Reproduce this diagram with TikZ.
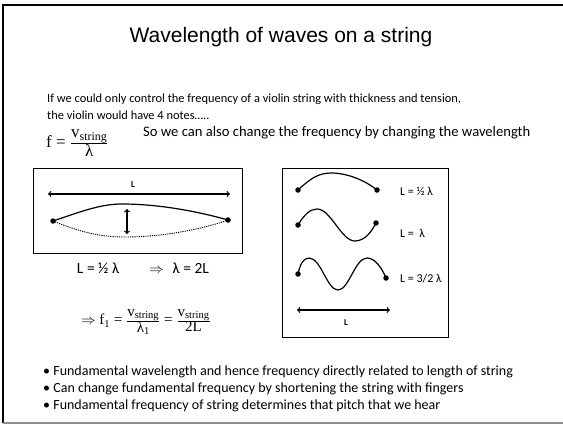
\documentclass[tikz,border=0pt]{standalone}
\usepackage{fontspec}
\setmainfont{Carlito}
\newfontfamily\headfont{Liberation Sans}
\newfontfamily\eqfont{Liberation Serif}
\usetikzlibrary{arrows, positioning, calc}
\definecolor{slideline}{RGB}{0, 0, 0}
\definecolor{footline}{RGB}{140, 140, 140}
\newcommand{\vfrac}[2]{$\frac{\hbox{#1}}{\hbox{#2}}$}

\begin{document}
\begin{tikzpicture}[
    x=1pt, y=-1pt,
    heading/.style={font=\headfont\fontsize{21}{25}\selectfont},
    bodytext/.style={anchor=base west, inner sep=0pt, font=\fontsize{12.4}{15}\selectfont},
    pointtext/.style={anchor=base west, inner sep=0pt, font=\fontsize{14}{17}\selectfont},
    labeltext/.style={anchor=west, inner sep=0pt, font=\fontsize{12}{14}\selectfont},
    eqtext/.style={inner sep=0pt, font=\eqfont\fontsize{17}{20}\selectfont},
    panel/.style={rectangle, draw, line width=1.2pt, anchor=north west, inner sep=0pt},
    dot/.style={circle, fill, inner sep=0pt, minimum size=5.5pt},
    string/.style={line width=1.2pt},
    dblarrow/.style={<->, line width=1.2pt, >=to}
]
\useasboundingbox (0,0) rectangle (563,426);

% Slide frame
\draw[slideline, line width=1.5pt] (563,5) -- (3,5) -- (3,423);
\draw[footline, line width=1.2pt] (3,423) -- (563,423);

% Heading and intro
\node[heading] (title) at (281,37) {Wavelength of waves on a string};
\node[bodytext] (intro1) at (47,102) {If we could only control the frequency of a violin string with thickness and tension,};
\node[bodytext] (intro2) at (47,119) {the violin would have 4 notes\ldots..};

\node[eqtext, anchor=west] (freq) at (46,143) {f = \vfrac{v\textsubscript{string}}{λ}};
\node[pointtext, font=\fontsize{14.6}{17}\selectfont] (sotext) at (143,136) {So we can also change the frequency by changing the wavelength};

% Left panel
\node[panel, minimum width=209pt, minimum height=85pt] (leftbox) at (33,168) {};
\coordinate (lenl) at (48,194);
\coordinate (lenr) at (230,194);
\node[font=\bfseries\fontsize{9}{10}\selectfont] (lenlab) at (133,185) {L};
\draw[dblarrow] (lenl) -- (lenr);

\node[dot] (la) at (53,221) {};
\node[dot] (lb) at (228,220) {};
\draw[string] (la.center) .. controls (80,212) and (100,204) .. (122,204) .. controls (160,204) and (200,212) .. (lb.center);
\draw[string, densely dotted, line width=0.9pt] (la.center) .. controls (80,232) and (100,237) .. (125,237) .. controls (160,237) and (200,230) .. (lb.center);
\coordinate (amptop) at (127,209);
\coordinate (ampbot) at (127,234);
\draw[dblarrow] (amptop) -- (ampbot);

\node[font=\fontsize{15.5}{18}\selectfont] (relation) at (143,268) {L = ½ λ\hspace{30pt}$\Rightarrow$\hspace{9pt}λ = 2L};
\node[eqtext, font=\eqfont\fontsize{15}{18}\selectfont] (fund) at (146,322) {$\Rightarrow$ f\textsubscript{1} = \vfrac{v\textsubscript{string}}{λ\textsubscript{1}} = \vfrac{v\textsubscript{string}}{2L}};

% Right panel
\node[panel, minimum width=166pt, minimum height=169pt] (rightbox) at (282,168) {};

\node[dot] (halfa) at (298,190) {};
\node[dot] (halfb) at (377,190) {};
\draw[string] (halfa.center) .. controls (310,179) and (318,173) .. (331,173) .. controls (348,173) and (366,181) .. (halfb.center);
\node[labeltext] (halflab) at (400,191) {L = ½ λ};

\node[dot] (fulla) at (298,225) {};
\node[dot] (fullb) at (376,223) {};
\draw[string] (fulla.center) .. controls (304,215) and (310,209) .. (317,209) .. controls (331,209) and (341,241) .. (355,241) .. controls (365,241) and (372,231) .. (fullb.center);
\node[labeltext] (fulllab) at (400,233) {L = \ λ};

\node[dot] (threea) at (298,274) {};
\node[dot] (threeb) at (386,278) {};
\draw[string] (threea.center) .. controls (300,265) and (303,258) .. (309,258) .. controls (321,258) and (327,290) .. (338,290) .. controls (349,290) and (355,258) .. (367,258) .. controls (375,258) and (382,268) .. (threeb.center);
\node[labeltext] (threelab) at (400,279) {L = 3/2 λ};

\coordinate (rlenl) at (297,310);
\coordinate (rlenr) at (390,310);
\draw[dblarrow] (rlenl) -- (rlenr);
\node[font=\bfseries\fontsize{9}{10}\selectfont] (rlenlab) at (346,323) {L};

% Points
\node[pointtext] (pt1) at (43,375) {• Fundamental wavelength and hence frequency directly related to length of string};
\node[pointtext] (pt2) at (43,392) {• Can change fundamental frequency by shortening the string with fingers};
\node[pointtext] (pt3) at (43,409) {• Fundamental frequency of string determines that pitch that we hear};

\end{tikzpicture}
\end{document}
